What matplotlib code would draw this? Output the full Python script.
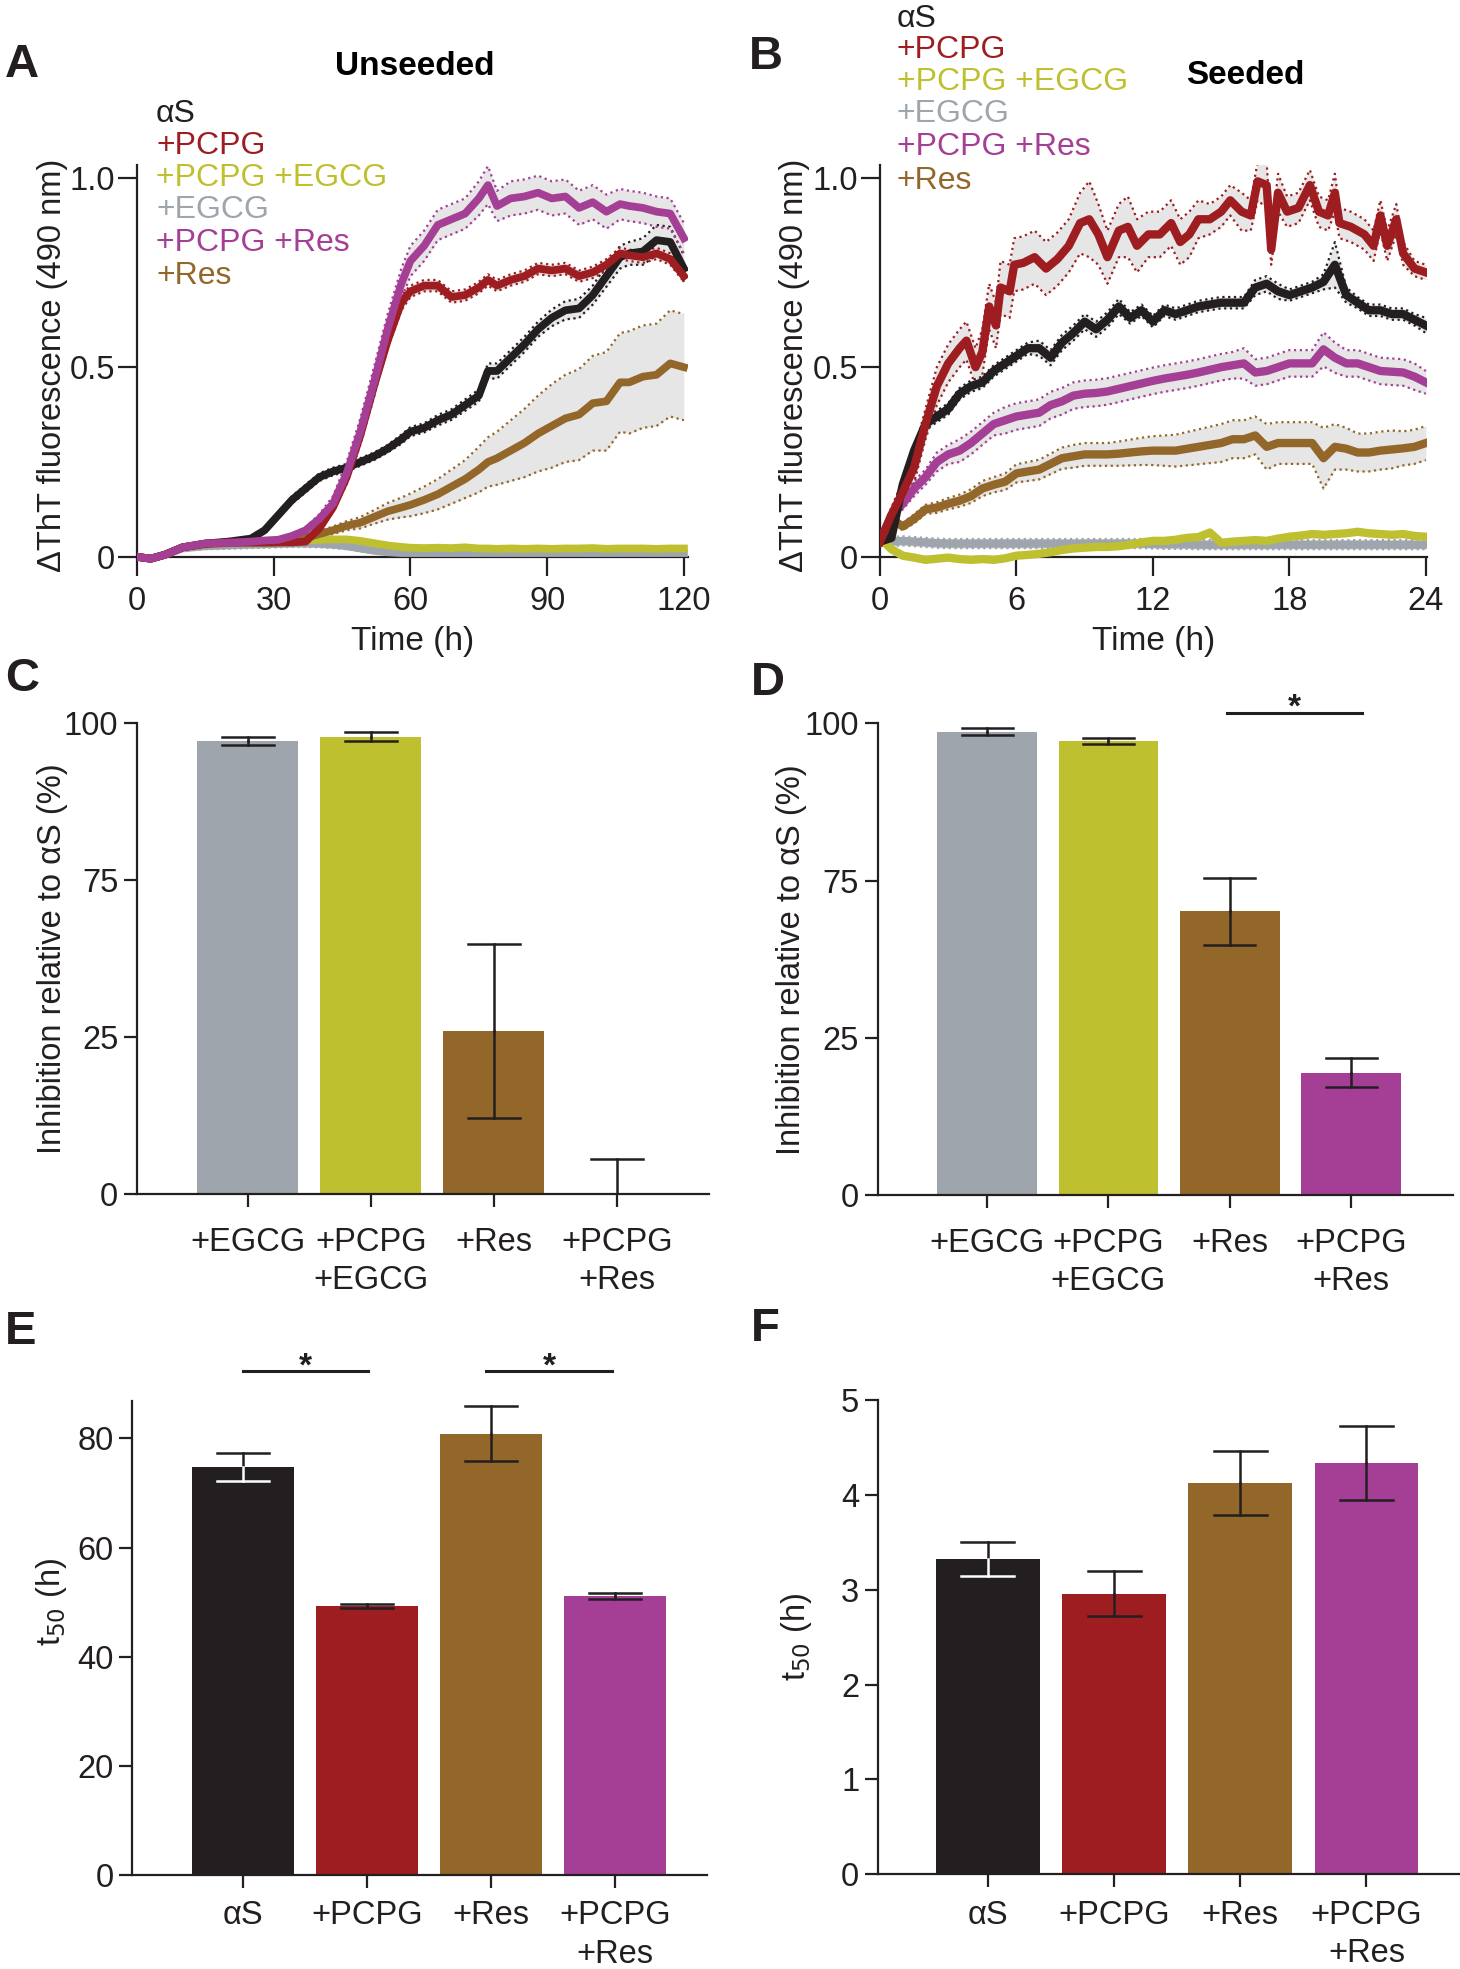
import numpy as np
import matplotlib
matplotlib.use("Agg")
import matplotlib.pyplot as plt

plt.rcParams['font.family'] = ['Liberation Sans', 'DejaVu Sans']

# colours per condition
colors = {
    'aS': '#231f20',
    'PCPG': '#9e1d21',
    'PCPG+EGCG': '#bfc030',
    'EGCG': '#9fa5ad',
    'PCPG+Res': '#a53f96',
    'Res': '#93662a',
}
legend_keys = ['aS', 'PCPG', 'PCPG+EGCG', 'EGCG', 'PCPG+Res', 'Res']
legend_text = ['αS', '+PCPG', '+PCPG +EGCG', '+EGCG', '+PCPG +Res', '+Res']

# ---- Panel A: unseeded kinetics (time in h, normalised ThT) ----
t_a = [0, 3, 6, 10, 15, 20, 25, 28, 31, 34, 37, 40, 43, 46, 49, 52, 55, 58, 60, 63,
       66, 69, 72, 75, 77, 79, 82, 85, 88, 91, 94, 97, 100, 103, 106, 108, 111, 114, 117, 120]
a_aS = [0, -0.005, 0.005, 0.025, 0.035, 0.04, 0.048, 0.07, 0.11, 0.15, 0.18, 0.21, 0.225, 0.235,
        0.25, 0.265, 0.285, 0.31, 0.33, 0.34, 0.36, 0.375, 0.40, 0.425, 0.49, 0.49, 0.525, 0.56,
        0.60, 0.63, 0.65, 0.655, 0.69, 0.74, 0.79, 0.80, 0.805, 0.835, 0.83, 0.76]
a_aS_sd = [0, 0, 0.002, 0.003, 0.004, 0.005, 0.005, 0.006, 0.008, 0.01, 0.01, 0.01, 0.01, 0.01,
           0.01, 0.01, 0.01, 0.012, 0.012, 0.012, 0.014, 0.014, 0.015, 0.016, 0.02, 0.02, 0.02,
           0.02, 0.02, 0.022, 0.024, 0.025, 0.025, 0.028, 0.03, 0.03, 0.035, 0.04, 0.04, 0.035]
a_pcpg = [0, -0.005, 0.005, 0.025, 0.035, 0.038, 0.038, 0.038, 0.038, 0.038, 0.04, 0.075, 0.13,
          0.21, 0.32, 0.45, 0.57, 0.67, 0.70, 0.715, 0.715, 0.685, 0.69, 0.71, 0.73, 0.715, 0.73,
          0.74, 0.76, 0.755, 0.76, 0.74, 0.75, 0.77, 0.80, 0.795, 0.79, 0.80, 0.785, 0.74]
a_pcpg_sd = [0, 0, 0.002, 0.003, 0.004, 0.004, 0.004, 0.004, 0.004, 0.004, 0.005, 0.008, 0.012,
             0.015, 0.02, 0.02, 0.02, 0.02, 0.015, 0.015, 0.015, 0.015, 0.015, 0.015, 0.015,
             0.015, 0.015, 0.015, 0.015, 0.015, 0.015, 0.015, 0.015, 0.015, 0.015, 0.015,
             0.015, 0.015, 0.015, 0.015]
a_pcpg_res = [0, -0.005, 0.005, 0.025, 0.035, 0.037, 0.04, 0.043, 0.045, 0.055, 0.07, 0.10, 0.14,
              0.22, 0.33, 0.46, 0.60, 0.72, 0.78, 0.82, 0.875, 0.89, 0.905, 0.945, 0.98, 0.925,
              0.945, 0.95, 0.96, 0.945, 0.95, 0.92, 0.935, 0.91, 0.93, 0.925, 0.92, 0.91, 0.905, 0.84]
a_pcpg_res_sd = [0, 0, 0.002, 0.003, 0.004, 0.004, 0.004, 0.004, 0.005, 0.006, 0.008, 0.012, 0.02,
                 0.03, 0.035, 0.04, 0.04, 0.04, 0.04, 0.04, 0.04, 0.04, 0.04, 0.045, 0.05, 0.04,
                 0.045, 0.045, 0.045, 0.045, 0.045, 0.045, 0.045, 0.045, 0.04, 0.04, 0.04, 0.04,
                 0.04, 0.04]
a_res = [0, -0.005, 0.005, 0.025, 0.033, 0.036, 0.037, 0.037, 0.038, 0.042, 0.05, 0.06, 0.07,
         0.082, 0.09, 0.105, 0.12, 0.13, 0.137, 0.15, 0.165, 0.185, 0.205, 0.23, 0.25, 0.26, 0.28,
         0.30, 0.325, 0.345, 0.365, 0.375, 0.405, 0.41, 0.46, 0.46, 0.475, 0.48, 0.51, 0.50]
a_res_sd = [0, 0, 0, 0.003, 0.003, 0.003, 0.003, 0.003, 0.003, 0.004, 0.005, 0.008, 0.01, 0.012,
            0.015, 0.018, 0.022, 0.026, 0.03, 0.035, 0.04, 0.045, 0.05, 0.06, 0.065, 0.07, 0.08,
            0.09, 0.10, 0.11, 0.115, 0.12, 0.125, 0.13, 0.13, 0.135, 0.135, 0.135, 0.14, 0.14]
a_pcpg_egcg = [0, -0.005, 0.005, 0.025, 0.033, 0.036, 0.038, 0.04, 0.042, 0.043, 0.044, 0.045,
               0.046, 0.046, 0.042, 0.036, 0.03, 0.026, 0.024, 0.023, 0.024, 0.023, 0.025, 0.022,
               0.022, 0.021, 0.022, 0.021, 0.022, 0.021, 0.022, 0.022, 0.023, 0.021, 0.022, 0.022,
               0.022, 0.021, 0.022, 0.022]
a_pcpg_egcg_sd = [0.004] * len(t_a)
a_egcg = [0, -0.005, 0.005, 0.022, 0.028, 0.03, 0.032, 0.033, 0.034, 0.035, 0.035, 0.034, 0.032,
          0.028, 0.022, 0.016, 0.012, 0.01, 0.01, 0.01, 0.01, 0.01, 0.01, 0.01, 0.01, 0.01, 0.01,
          0.01, 0.01, 0.01, 0.01, 0.01, 0.01, 0.01, 0.01, 0.01, 0.01, 0.01, 0.01, 0.01]
a_egcg_sd = [0, 0, 0.003, 0.006, 0.008, 0.009, 0.009, 0.009, 0.009, 0.009, 0.009, 0.009, 0.009,
             0.008, 0.008, 0.006, 0.005, 0.004, 0.004, 0.004, 0.004, 0.004, 0.004, 0.004, 0.004,
             0.004, 0.004, 0.004, 0.004, 0.004, 0.004, 0.004, 0.004, 0.004, 0.004, 0.004, 0.004,
             0.004, 0.004, 0.004]

# ---- Panel B: seeded kinetics ----
t_b = [0, 0.5, 1, 1.5, 2, 2.5, 3, 3.5, 4, 4.5, 5, 5.5, 6, 6.5, 7, 7.5, 8, 8.5, 9, 9.5, 10,
       10.5, 11, 11.5, 12, 12.5, 13, 13.5, 14, 14.5, 15, 15.5, 16, 16.5, 17, 17.5, 18, 18.5,
       19, 19.5, 20, 20.5, 21, 21.5, 22, 22.5, 23, 23.5, 24]
b_aS = [0.04, 0.05, 0.19, 0.28, 0.35, 0.37, 0.39, 0.43, 0.45, 0.46, 0.49, 0.51, 0.53, 0.55, 0.55,
        0.525, 0.565, 0.59, 0.62, 0.60, 0.625, 0.66, 0.63, 0.65, 0.62, 0.65, 0.64, 0.65, 0.66,
        0.665, 0.67, 0.67, 0.67, 0.71, 0.72, 0.70, 0.69, 0.70, 0.71, 0.725, 0.77, 0.69, 0.67,
        0.65, 0.65, 0.64, 0.64, 0.625, 0.61]
b_aS_sd = [0.005, 0.01, 0.015, 0.015, 0.015, 0.015, 0.015, 0.015, 0.015, 0.015, 0.015, 0.015,
           0.015, 0.015, 0.02, 0.02, 0.02, 0.02, 0.02, 0.02, 0.02, 0.02, 0.015, 0.015, 0.015,
           0.015, 0.015, 0.015, 0.015, 0.015, 0.015, 0.015, 0.015, 0.02, 0.02, 0.02, 0.015,
           0.015, 0.015, 0.02, 0.06, 0.02, 0.015, 0.015, 0.015, 0.015, 0.015, 0.015, 0.02]
b_pcpg_res = [0.04, 0.11, 0.14, 0.18, 0.21, 0.25, 0.27, 0.28, 0.30, 0.325, 0.35, 0.36, 0.37,
              0.375, 0.38, 0.40, 0.41, 0.425, 0.43, 0.432, 0.436, 0.443, 0.45, 0.457, 0.464,
              0.47, 0.475, 0.48, 0.486, 0.493, 0.50, 0.505, 0.51, 0.486, 0.49, 0.50, 0.51, 0.51,
              0.51, 0.547, 0.525, 0.51, 0.51, 0.50, 0.49, 0.488, 0.486, 0.475, 0.46]
b_pcpg_res_sd = [0.005, 0.01, 0.015, 0.02, 0.02, 0.025, 0.025, 0.03, 0.03, 0.03, 0.03, 0.035,
                 0.035, 0.035, 0.035, 0.035, 0.035, 0.035, 0.035, 0.035, 0.035, 0.035, 0.035,
                 0.035, 0.035, 0.035, 0.035, 0.035, 0.035, 0.035, 0.035, 0.035, 0.04, 0.035,
                 0.035, 0.035, 0.035, 0.035, 0.035, 0.045, 0.04, 0.035, 0.035, 0.035, 0.035,
                 0.035, 0.035, 0.035, 0.03]
b_res = [0.04, 0.10, 0.08, 0.10, 0.125, 0.13, 0.14, 0.148, 0.16, 0.18, 0.19, 0.198, 0.22, 0.225,
         0.23, 0.245, 0.26, 0.265, 0.27, 0.27, 0.27, 0.272, 0.275, 0.278, 0.28, 0.28, 0.28, 0.285,
         0.29, 0.295, 0.30, 0.31, 0.31, 0.32, 0.29, 0.30, 0.30, 0.30, 0.30, 0.26, 0.29, 0.285,
         0.275, 0.275, 0.28, 0.283, 0.286, 0.29, 0.30]
b_res_sd = [0.005, 0.01, 0.01, 0.012, 0.012, 0.014, 0.015, 0.016, 0.018, 0.02, 0.02, 0.022,
            0.024, 0.025, 0.026, 0.027, 0.028, 0.03, 0.03, 0.03, 0.03, 0.032, 0.034, 0.036,
            0.038, 0.04, 0.042, 0.044, 0.046, 0.048, 0.05, 0.05, 0.05, 0.05, 0.06, 0.055, 0.055,
            0.055, 0.055, 0.08, 0.06, 0.055, 0.05, 0.05, 0.05, 0.05, 0.045, 0.045, 0.045]
b_pcpg_egcg = [0.05, 0.02, 0.003, -0.002, -0.008, -0.005, -0.002, -0.006, -0.008, -0.006, -0.008,
               -0.004, 0.003, 0.005, 0.008, 0.012, 0.018, 0.022, 0.024, 0.026, 0.026, 0.028,
               0.032, 0.038, 0.042, 0.042, 0.045, 0.05, 0.052, 0.064, 0.037, 0.04, 0.042, 0.044,
               0.042, 0.048, 0.053, 0.056, 0.06, 0.058, 0.06, 0.062, 0.066, 0.062, 0.06, 0.058,
               0.06, 0.055, 0.053]
b_egcg = [0.05, 0.04, 0.042, 0.04, 0.038, 0.036, 0.035, 0.035, 0.035, 0.035, 0.035, 0.035, 0.035,
          0.035, 0.035, 0.035, 0.035, 0.035, 0.035, 0.035, 0.035, 0.035, 0.035, 0.035, 0.034,
          0.033, 0.033, 0.033, 0.032, 0.032, 0.032, 0.032, 0.032, 0.032, 0.032, 0.032, 0.032,
          0.032, 0.032, 0.032, 0.032, 0.032, 0.032, 0.032, 0.032, 0.032, 0.032, 0.032, 0.032]
b_small_sd = [0.012] * len(t_b)

t_b_pcpg = [0, 0.5, 1, 1.5, 2, 2.5, 3, 3.5, 3.8, 4.2, 4.5, 4.8, 5.1, 5.3, 5.7, 5.9, 6.3, 6.8,
            7.3, 7.8, 8.3, 8.8, 9.2, 9.6, 10, 10.5, 10.9, 11.3, 11.8, 12.3, 12.8, 13.2, 13.6, 14,
            14.5, 15, 15.4, 15.9, 16.3, 16.6, 17, 17.2, 17.5, 17.9, 18.4, 18.9, 19.3, 19.7, 20,
            20.2, 20.7, 21.3, 21.7, 22, 22.3, 22.7, 23, 23.5, 24]
b_pcpg = [0.04, 0.11, 0.17, 0.236, 0.35, 0.45, 0.51, 0.55, 0.57, 0.50, 0.54, 0.66, 0.61, 0.71,
          0.70, 0.77, 0.775, 0.79, 0.76, 0.785, 0.82, 0.88, 0.89, 0.85, 0.79, 0.86, 0.87, 0.82,
          0.85, 0.85, 0.88, 0.83, 0.85, 0.89, 0.89, 0.91, 0.94, 0.91, 0.90, 0.99, 0.98, 0.81,
          0.96, 0.91, 0.92, 0.98, 0.91, 0.90, 0.96, 0.88, 0.87, 0.85, 0.82, 0.90, 0.82, 0.89,
          0.80, 0.76, 0.75]
b_pcpg_sd = [0.01, 0.02, 0.03, 0.04, 0.04, 0.05, 0.05, 0.05, 0.05, 0.05, 0.06, 0.06, 0.06, 0.07,
             0.07, 0.07, 0.07, 0.07, 0.07, 0.07, 0.07, 0.08, 0.1, 0.08, 0.07, 0.07, 0.08, 0.07,
             0.06, 0.06, 0.06, 0.06, 0.06, 0.05, 0.04, 0.04, 0.04, 0.05, 0.04, 0.05, 0.06, 0.04,
             0.05, 0.04, 0.04, 0.04, 0.04, 0.04, 0.05, 0.04, 0.04, 0.04, 0.04, 0.04, 0.04, 0.04,
             0.03, 0.02, 0.02]

# ---- Panels C-F: bar data ----
inhib_labels = ['+EGCG', '+PCPG\n+EGCG', '+Res', '+PCPG\n+Res']
inhib_keys = ['EGCG', 'PCPG+EGCG', 'Res', 'PCPG+Res']
c_vals = [96.2, 97.1, 34.7, 0.0]
c_err = [0.9, 1.0, 18.5, 7.6]
d_vals = [98.2, 96.2, 60.2, 26.0]
d_err = [0.8, 0.55, 7.1, 3.0]
inhib_ticks = [0, 100 / 3, 200 / 3, 100]
inhib_ticklabels = ['0', '25', '75', '100']

t50_labels = ['αS', '+PCPG', '+Res', '+PCPG\n+Res']
t50_keys = ['aS', 'PCPG', 'Res', 'PCPG+Res']
e_vals = [74.75, 49.3, 80.9, 51.1]
e_err = [2.6, 0.35, 5.0, 0.55]
f_vals = [3.33, 2.96, 4.13, 4.34]
f_err = [0.18, 0.24, 0.34, 0.39]

TXT = '#231f20'
W, H = 1460, 1969
fig = plt.figure(figsize=(14.6, 19.69), dpi=100)


def px_axes(x0, x1, y_top, y_bot):
    return fig.add_axes([x0 / W, 1 - y_bot / H, (x1 - x0) / W, (y_bot - y_top) / H])


def fig_text(x, y, s, **kw):
    fig.text(x / W, 1 - y / H, s, **kw)


def style(ax, length, xpad, ypad):
    for s in ('top', 'right'):
        ax.spines[s].set_visible(False)
    for s in ('left', 'bottom'):
        ax.spines[s].set_linewidth(1.6)
        ax.spines[s].set_color(TXT)
    ax.tick_params(direction='out', length=length, width=1.6, labelsize=23.5,
                   colors=TXT)
    ax.tick_params(axis='x', pad=xpad)
    ax.tick_params(axis='y', pad=ypad)


def kinetic(ax, t, v, sd, key):
    v = np.array(v)
    sd = np.array(sd)
    ax.fill_between(t, v - sd, v + sd, color='#e6e6e6', lw=0, zorder=1)
    ax.plot(t, v + sd, color=colors[key], lw=1.6, ls=(0, (1, 1.6)), zorder=2)
    ax.plot(t, v - sd, color=colors[key], lw=1.6, ls=(0, (1, 1.6)), zorder=2)


def main_line(ax, t, v, key, lw, z):
    ax.plot(t, v, color=colors[key], lw=lw, zorder=z, solid_joinstyle='round')


def err(ax, x, v, e, above=TXT, below=TXT, cap=0.21):
    ax.plot([x, x], [v, v + e], color=above, lw=1.8, zorder=4)
    ax.plot([x - cap, x + cap], [v + e, v + e], color=above, lw=1.8, zorder=4)
    ax.plot([x, x], [v - e, v], color=below, lw=1.8, zorder=4)
    ax.plot([x - cap, x + cap], [v - e, v - e], color=below, lw=1.8, zorder=4)


# ---------------- A ----------------
axA = px_axes(137, 688, 165.4, 564.4)
series_a = [(a_egcg, a_egcg_sd, 'EGCG'), (a_pcpg_egcg, a_pcpg_egcg_sd, 'PCPG+EGCG'),
            (a_res, a_res_sd, 'Res'), (a_aS, a_aS_sd, 'aS'),
            (a_pcpg, a_pcpg_sd, 'PCPG'), (a_pcpg_res, a_pcpg_res_sd, 'PCPG+Res')]
for v, sd, key in series_a:
    kinetic(axA, t_a, v, sd, key)
for i, (v, sd, key) in enumerate(series_a):
    main_line(axA, t_a, v, key, 5.6, 3 + i)
axA.set_xlim(0, 120.9)
axA.set_ylim(-0.02, 1.032)
axA.set_xticks([0, 30, 60, 90, 120])
axA.set_yticks([0, 0.5, 1.0])
axA.set_yticklabels(['0', '0.5', '1.0'])

# ---------------- B ----------------
axB = px_axes(880, 1427, 165.4, 564.4)
series_b = [(t_b, b_egcg, b_small_sd, 'EGCG'), (t_b, b_pcpg_egcg, b_small_sd, 'PCPG+EGCG'),
            (t_b, b_res, b_res_sd, 'Res'), (t_b, b_pcpg_res, b_pcpg_res_sd, 'PCPG+Res'),
            (t_b, b_aS, b_aS_sd, 'aS'), (t_b_pcpg, b_pcpg, b_pcpg_sd, 'PCPG')]
for t, v, sd, key in series_b:
    if key != 'PCPG+EGCG':
        kinetic(axB, t, v, sd, key)
for i, (t, v, sd, key) in enumerate(series_b):
    main_line(axB, t, v, key, 6.0, 3 + i)
axB.set_xlim(0, 24.05)
axB.set_ylim(-0.02, 1.032)
axB.set_xticks([0, 6, 12, 18, 24])
axB.set_yticks([0, 0.5, 1.0])
axB.set_yticklabels(['0', '0.5', '1.0'])

for ax in (axA, axB):
    style(ax, 14, 7, 2)
    ax.spines['bottom'].set_position(('data', 0))
    ax.spines['left'].set_bounds(0, 1.032)
    ax.set_xlabel('Time (h)', fontsize=24, color=TXT)
    ax.set_ylabel('ΔThT fluorescence (490 nm)', fontsize=23.5, color=TXT)
axA.yaxis.set_label_coords(-0.125, 0.5)
axB.yaxis.set_label_coords(-0.128, 0.5)
axA.xaxis.set_label_coords(0.5, -0.155)
axB.xaxis.set_label_coords(0.5, -0.155)


# ---------------- bar panels ----------------
def bar_panel(ax, vals, errs, keys, labels, xpad):
    x = np.arange(len(vals))
    ax.bar(x, vals, width=0.82, color=[colors[k] for k in keys], zorder=2)
    for xi, v, e, k in zip(x, vals, errs, keys):
        if k == 'aS':
            err(ax, xi, v, e, below='white')
        else:
            err(ax, xi, v, e)
    ax.set_xticks(x)
    ax.set_xticklabels(labels, linespacing=1.3)
    style(ax, 9.5, xpad, 4)


axC = px_axes(137, 709, 723.1, 1194.5)
bar_panel(axC, c_vals, c_err, inhib_keys, inhib_labels, 14)
axC.set_xlim(-0.9, 3.75)
axC.set_ylim(0, 100)

axD = px_axes(878, 1453, 723.1, 1195.4)
bar_panel(axD, d_vals, d_err, inhib_keys, inhib_labels, 14)
axD.set_xlim(-0.9, 3.84)
axD.set_ylim(0, 100)

for ax in (axC, axD):
    ax.set_yticks(inhib_ticks)
    ax.set_yticklabels(inhib_ticklabels)
    ax.set_ylabel('Inhibition relative to αS (%)', fontsize=23.5, color=TXT)
axC.yaxis.set_label_coords(-0.121, 0.5)
axD.yaxis.set_label_coords(-0.123, 0.5)

axE = px_axes(132.4, 706.6, 1400.8, 1874.8)
bar_panel(axE, e_vals, e_err, t50_keys, t50_labels, 9)
axE.set_xlim(-0.89, 3.74)
axE.set_ylim(0, 86.9)
axE.set_yticks([0, 20, 40, 60, 80])

axF = px_axes(878, 1458.6, 1400.5, 1874)
bar_panel(axF, f_vals, f_err, t50_keys, t50_labels, 9)
axF.set_xlim(-0.87, 3.73)
axF.set_ylim(0, 5)
axF.set_yticks([0, 1, 2, 3, 4, 5])

for ax in (axE, axF):
    ax.set_ylabel('t$_{50}$ (h)', fontsize=23.5, color=TXT)
axE.yaxis.set_label_coords(-0.11, 0.575)
axF.yaxis.set_label_coords(-0.11, 0.5)


# significance bars
def sig(ax, x0, x1, y, ystar):
    ax.plot([x0, x1], [y, y], color=TXT, lw=2.2, clip_on=False)
    ax.text((x0 + x1) / 2, ystar, '*', fontsize=24, fontweight='bold', color=TXT,
            ha='center', va='baseline', clip_on=False)


sig(axD, 1.98, 3.09, 102.2, 101.4)
sig(axE, 0.0, 1.01, 92.3, 91.6)
sig(axE, 1.96, 2.98, 92.3, 91.6)

# legends written as coloured text
for y, key, s in zip([113.6, 146.5, 177.6, 210.4, 243.3, 276.5], legend_keys, legend_text):
    fig_text(156, y, s, color=colors[key], fontsize=23, va='center', ha='left')
for y, key, s in zip([18.9, 50.5, 82.0, 114.5, 147.3, 181.0], legend_keys, legend_text):
    fig_text(897, y, s, color=colors[key], fontsize=23, va='center', ha='left')

fig_text(415, 66.5, 'Unseeded', fontsize=24, fontweight='bold', ha='center', va='center')
fig_text(1245, 75, 'Seeded', fontsize=24, fontweight='bold', ha='center', va='center')

for x, y, s in [(5, 65, 'A'), (749, 57, 'B'), (5, 679, 'C'), (751, 683, 'D'),
                (5, 1332, 'E'), (751, 1329, 'F')]:
    fig_text(x, y, s, fontsize=34, fontweight='bold', ha='left', va='center', color=TXT)

fig.savefig('out.png', dpi=100)
